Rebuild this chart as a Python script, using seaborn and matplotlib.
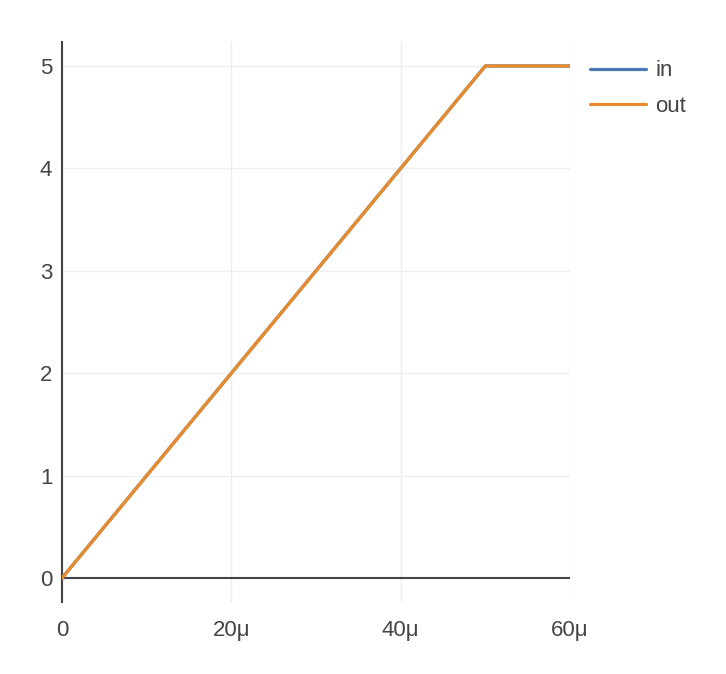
import pandas as pd
import matplotlib.pyplot as plt
import seaborn as sns

# 数据: 时间(秒)与电压
time_in = [0, 50e-6, 60e-6]
volt_in = [0, 5, 5]
time_out = [0, 50e-6, 60e-6]
volt_out = [0, 5, 5]
x_ticks = [0, 20e-6, 40e-6, 60e-6]
x_labels = ['0', '20μ', '40μ', '60μ']
y_ticks = [0, 1, 2, 3, 4, 5]

sns.set_theme(style='white')
plt.rcParams['font.family'] = ['Liberation Sans', 'DejaVu Sans']

df = pd.concat([
    pd.DataFrame({'t': time_in, 'v': volt_in, 'signal': 'in'}),
    pd.DataFrame({'t': time_out, 'v': volt_out, 'signal': 'out'}),
])

fig = plt.figure(figsize=(7.26, 6.74), dpi=100)
ax = fig.add_axes([62 / 726, 72 / 674, 508 / 726, 560 / 674])

palette = {'in': '#4a78b4', 'out': '#e88b2a'}
sns.lineplot(data=df, x='t', y='v', hue='signal', palette=palette,
             linewidth=2.3, ax=ax, zorder=3)

ax.set_xlim(0, 60e-6)
ax.set_ylim(-0.234, 5.234)
ax.set_xticks(x_ticks)
ax.set_xticklabels(x_labels)
ax.set_yticks(y_ticks)
ax.set_xlabel('')
ax.set_ylabel('')

ax.grid(True, color='#eeeeee', linewidth=1)
ax.axhline(0, color='#444444', linewidth=1.5, zorder=2)

for side in ['top', 'right', 'bottom']:
    ax.spines[side].set_visible(False)
ax.spines['left'].set_color('#444444')
ax.spines['left'].set_linewidth(1.5)

ax.tick_params(axis='both', length=0, labelsize=16, labelcolor='#444444')
ax.tick_params(axis='y', pad=7)
ax.tick_params(axis='x', pad=13)

leg = ax.legend(loc='upper left', bbox_to_anchor=(1.022, 0.983), frameon=False,
                fontsize=16, handlelength=2.5, handletextpad=0.45,
                labelspacing=0.66, borderaxespad=0)
for t in leg.get_texts():
    t.set_color('#444444')

fig.savefig('out.png', dpi=100)
